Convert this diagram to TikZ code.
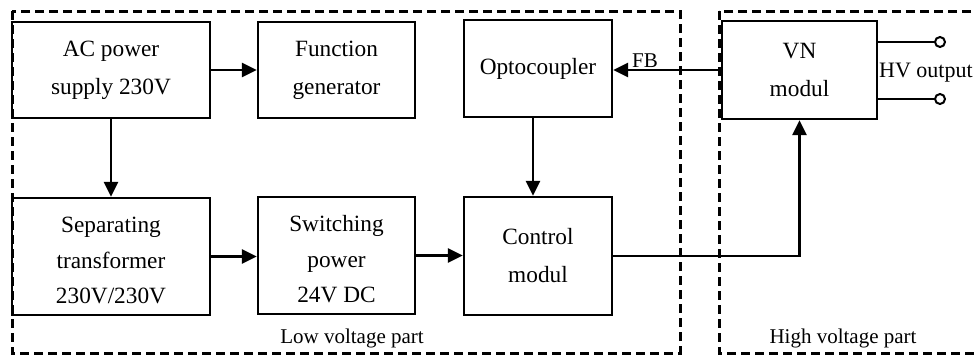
\documentclass[tikz,border=0pt]{standalone}
\usepackage{fontspec}
\setmainfont{Liberation Serif}
\usetikzlibrary{arrows.meta,calc}
\begin{document}
\begin{tikzpicture}[x=1pt,y=-1pt,
  blk/.style={draw,line width=2.3pt,align=center,inner sep=0pt,font=\fontsize{23.3}{38}\selectfont},
  blkthree/.style={blk,font=\fontsize{23.3}{35.5}\selectfont},
  arr/.style={line width=2.7pt,-{Triangle[length=15pt,width=14pt]}},
  wire/.style={line width=2pt},
  dbox/.style={draw,line width=3pt,dash pattern=on 9pt off 5pt},
  lbl/.style={font=\fontsize{21}{25}\selectfont},
  term/.style={circle,draw,fill=white,line width=2pt,minimum size=10pt,inner sep=0pt}]
\clip (0,0) rectangle (975,356);
% dashed regions
\draw[dbox] (12,11) rectangle (680,353);
\draw[dbox] (719,11) rectangle (1000,353);
% blocks
\node[blk,minimum width=198pt,minimum height=96pt] (ac) at (111,70) {AC power\\supply 230V};
\node[blk,minimum width=157pt,minimum height=96pt] (fg) at (336.5,70) {Function\\generator};
\node[blk,minimum width=148pt,minimum height=97pt] (opto) at (538,68.5) {Optocoupler};
\node[blkthree,minimum width=198pt,minimum height=117pt] (sep) at (111,256.5) {\rule{0pt}{24pt}Separating\\transformer\\230V/230V};
\node[blkthree,minimum width=157pt,minimum height=117pt] (sw) at (336.5,255.5) {\rule{0pt}{24pt}Switching\\power\\24V DC};
\node[blk,minimum width=148pt,minimum height=118pt] (ctrl) at (538,256) {Control\\modul};
\node[blk,minimum width=155pt,minimum height=98pt] (vn) at (799.5,70) {VN\\modul};
% terminals
\node[term] (t1) at (940,42) {};
\node[term] (t2) at (940,99) {};
\draw[wire] (vn.east |- t1) -- (t1);
\draw[wire] (vn.east |- t2) -- (t2);
% connectors
\draw[arr] (ac.east) -- (fg.west);
\draw[arr] (ac.south) -- (sep.north);
\draw[arr] (sep.east) -- (sep.east -| sw.west);
\draw[arr] (sw.east) -- (sw.east -| ctrl.west);
\draw[arr] ([xshift=-5pt]opto.south) -- ([xshift=-5pt]opto.south |- ctrl.north);
\draw[arr] (vn.west) -- (vn.west -| opto.east);
\draw[arr] (ctrl.east) -| (vn.south);
% labels
\node[lbl,anchor=base] (fb) at (645,67) {FB};
\node[lbl,font=\fontsize{22}{26}\selectfont,anchor=base west,inner sep=0pt] (hv) at (879,77) {HV output};
\node[lbl,anchor=base] (lvp) at (352,343) {Low voltage part};
\node[lbl,anchor=base] (hvp) at (843,343) {High voltage part};
\end{tikzpicture}
\end{document}
